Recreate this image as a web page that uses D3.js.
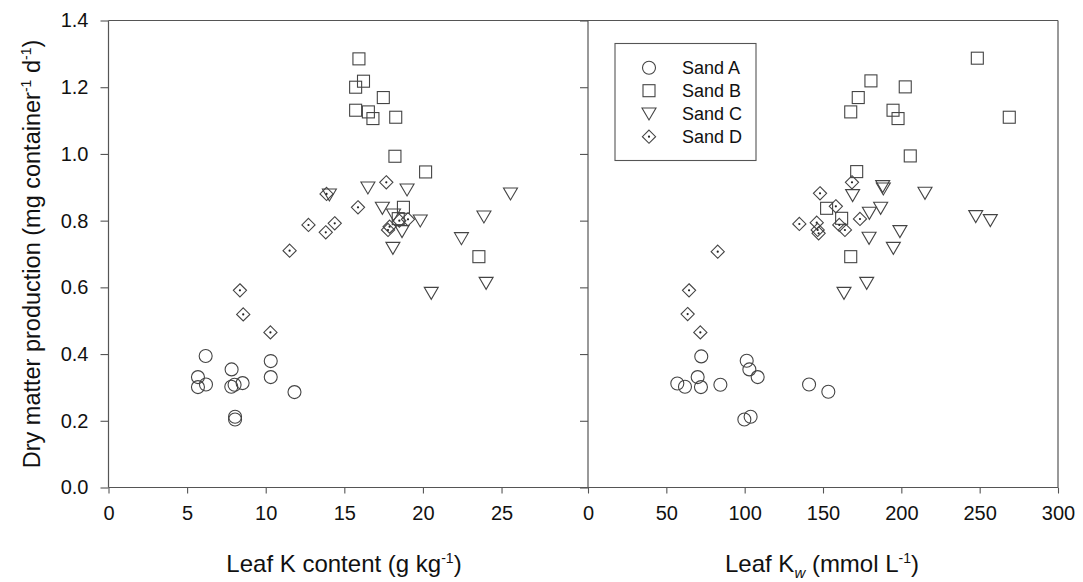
<!DOCTYPE html>
<html>
<head>
<meta charset="utf-8">
<script src="https://cdn.jsdelivr.net/npm/d3@7"></script>
<style>
  html, body { margin: 0; padding: 0; background: #fff; }
  svg { display: block; }
  text { font-family: "Liberation Sans", Arial, sans-serif; fill: #111; }
</style>
</head>
<body>
<svg id="chart" width="1083" height="582"></svg>
<script>
// ---------- DATA ----------
const series = ["Sand A", "Sand B", "Sand C", "Sand D"];
const yTicks = [0.0, 0.2, 0.4, 0.6, 0.8, 1.0, 1.2, 1.4];
const xTicksK = [0, 5, 10, 15, 20, 25];
const xTicksKw = [0, 50, 100, 150, 200, 250, 300];

// Left panel: Leaf K content (g kg-1) vs dry matter production
const kA  = [6.18, 5.69, 5.69, 6.2, 7.83, 7.81, 8.02, 8.53, 8.05, 8.05, 10.32, 10.32, 11.83];
const dmKA = [0.394, 0.331, 0.301, 0.309, 0.354, 0.302, 0.308, 0.313, 0.212, 0.204, 0.379, 0.331, 0.286];
const kB  = [15.93, 16.22, 15.72, 17.48, 15.72, 16.53, 16.82, 18.27, 18.22, 20.17, 18.76, 18.43, 23.56];
const dmKB = [1.285, 1.218, 1.200, 1.169, 1.131, 1.126, 1.106, 1.110, 0.993, 0.946, 0.840, 0.806, 0.692];
const kC  = [14.05, 16.5, 18.99, 25.57, 17.42, 18.13, 19.83, 23.88, 18.67, 22.45, 18.09, 20.53, 24.02];
const dmKC = [0.877, 0.898, 0.892, 0.880, 0.837, 0.817, 0.799, 0.811, 0.767, 0.746, 0.717, 0.582, 0.612];
const kD  = [13.87, 12.72, 14.39, 13.82, 11.52, 17.67, 15.87, 19.05, 18.5, 17.88, 17.78, 8.36, 8.57, 10.3];
const dmKD = [0.880, 0.787, 0.792, 0.765, 0.710, 0.915, 0.840, 0.804, 0.800, 0.782, 0.772, 0.591, 0.519, 0.465];

// Right panel: Leaf Kw (mmol L-1) vs dry matter production
const kwA = [72.3, 57.0, 61.9, 70.0, 72.1, 84.5, 101.3, 103.0, 108.3, 99.8, 103.8, 141.1, 153.4];
const dmWA = [0.393, 0.312, 0.302, 0.331, 0.301, 0.308, 0.380, 0.354, 0.331, 0.204, 0.212, 0.309, 0.287];
const kwB = [248.5, 180.6, 202.5, 172.5, 167.7, 194.7, 197.9, 268.9, 205.7, 171.5, 152.3, 161.9, 167.7];
const dmWB = [1.287, 1.219, 1.201, 1.169, 1.126, 1.131, 1.106, 1.110, 0.994, 0.947, 0.837, 0.807, 0.692];
const kwC = [188.1, 188.5, 215.1, 168.9, 186.8, 179.6, 247.5, 256.8, 199.1, 179.4, 194.9, 163.4, 177.9];
const dmWC = [0.902, 0.895, 0.882, 0.875, 0.837, 0.822, 0.812, 0.800, 0.767, 0.747, 0.717, 0.582, 0.612];
const kwD = [82.8, 64.5, 63.6, 71.7, 148.1, 134.9, 146.0, 146.6, 147.2, 158.2, 168.5, 173.6, 160.4, 164.0];
const dmWD = [0.707, 0.591, 0.520, 0.465, 0.882, 0.790, 0.794, 0.772, 0.762, 0.843, 0.915, 0.805, 0.787, 0.772];

// ---------- LAYOUT ----------
const svg = d3.select("#chart");
const yTop = 20.5, yBottom = 487.5;
const leftX0 = 108.5, midX = 588, rightX1 = 1058;
const stroke = "#444";

const y = d3.scaleLinear().domain([0, 1.4]).range([yBottom, yTop]);
const xK = d3.scaleLinear().domain([0, 30.5]).range([leftX0, midX]);
const xKw = d3.scaleLinear().domain([0, 300]).range([midX, rightX1]);

// symbol drawing
function drawSymbol(g, type) {
  const s = g.append("g");
  if (type === 0) {
    s.append("circle").attr("r", 6.5).attr("fill", "none").attr("stroke", stroke).attr("stroke-width", 1.1);
  } else if (type === 1) {
    s.append("rect").attr("x", -6).attr("y", -6).attr("width", 12).attr("height", 12)
      .attr("fill", "none").attr("stroke", stroke).attr("stroke-width", 1.1);
  } else if (type === 2) {
    s.append("path").attr("d", "M-7,-6L7,-6L0,6Z").attr("fill", "none").attr("stroke", stroke).attr("stroke-width", 1.1);
  } else {
    s.append("path").attr("d", "M0,-6.6L6.6,0L0,6.6L-6.6,0Z").attr("fill", "none").attr("stroke", stroke).attr("stroke-width", 1.1);
    s.append("circle").attr("r", 1.1).attr("fill", "#222");
  }
  return s;
}

// ---------- AXES ----------
const axisG = svg.append("g");
axisG.append("g").attr("transform", `translate(${leftX0},0)`)
  .call(d3.axisLeft(y).tickValues(yTicks).tickFormat(d3.format(".1f")).tickSize(8).tickPadding(12));
axisG.append("g").attr("transform", `translate(${midX},0)`)
  .call(d3.axisLeft(y).tickValues(yTicks).tickFormat("").tickSize(8));
axisG.append("g").attr("transform", `translate(0,${yBottom})`)
  .call(d3.axisBottom(xK).tickValues(xTicksK).tickSize(6).tickPadding(12));
axisG.append("g").attr("transform", `translate(0,${yBottom})`)
  .call(d3.axisBottom(xKw).tickValues(xTicksKw).tickSize(6).tickPadding(12));

axisG.selectAll(".domain").remove();
axisG.selectAll(".tick line").attr("stroke", "#555").attr("stroke-width", 1.1);
axisG.selectAll(".tick text").style("font-size", "20px").style("font-family", "Liberation Sans, Arial, sans-serif").attr("fill", "#111");
[[leftX0, yTop, leftX0, yBottom], [midX, yTop, midX, yBottom], [rightX1, yTop, rightX1, yBottom],
 [leftX0, yBottom, rightX1, yBottom], [leftX0, yTop, rightX1, yTop]]
  .forEach(([x1, y1, x2, y2]) => axisG.append("line").attr("x1", x1).attr("y1", y1).attr("x2", x2).attr("y2", y2)
    .attr("stroke", "#555").attr("stroke-width", 1.2));

// ---------- POINTS ----------
const leftSets = [[kA, dmKA], [kB, dmKB], [kC, dmKC], [kD, dmKD]];
const rightSets = [[kwA, dmWA], [kwB, dmWB], [kwC, dmWC], [kwD, dmWD]];
const pts = svg.append("g");
leftSets.forEach(([xs, ys], si) => {
  xs.forEach((v, i) => {
    drawSymbol(pts, si).attr("transform", `translate(${xK(v)},${y(ys[i])})`);
  });
});
rightSets.forEach(([xs, ys], si) => {
  xs.forEach((v, i) => {
    drawSymbol(pts, si).attr("transform", `translate(${xKw(v)},${y(ys[i])})`);
  });
});

// ---------- LEGEND ----------
const lg = svg.append("g");
lg.append("rect").attr("x", 615).attr("y", 43.5).attr("width", 141).attr("height", 117)
  .attr("fill", "#fff").attr("stroke", "#555").attr("stroke-width", 1.1);
const legendRows = [67.7, 90.7, 114, 136.7];
series.forEach((name, i) => {
  drawSymbol(lg, i).attr("transform", `translate(649,${legendRows[i]})`);
  lg.append("text").attr("x", 682).attr("y", legendRows[i]).attr("dy", "0.35em")
    .style("font-size", "18px").text(name);
});

// ---------- TITLES ----------
const yt = svg.append("text").attr("transform", `translate(40,${(yTop + yBottom) / 2}) rotate(-90)`)
  .attr("text-anchor", "middle").style("font-size", "23.5px");
yt.append("tspan").text("Dry matter production (mg container");
yt.append("tspan").attr("dy", -9).style("font-size", "14px").text("-1");
yt.append("tspan").attr("dy", 9).text(" d");
yt.append("tspan").attr("dy", -9).style("font-size", "14px").text("-1");
yt.append("tspan").attr("dy", 9).text(")");

const xt1 = svg.append("text").attr("x", 344).attr("y", 571.5)
  .attr("text-anchor", "middle").style("font-size", "24px");
xt1.append("tspan").text("Leaf K content (g kg");
xt1.append("tspan").attr("dy", -9).style("font-size", "14px").text("-1");
xt1.append("tspan").attr("dy", 9).text(")");

const xt2 = svg.append("text").attr("x", 822).attr("y", 571.5)
  .attr("text-anchor", "middle").style("font-size", "24px");
xt2.append("tspan").text("Leaf K");
xt2.append("tspan").attr("dy", 6).style("font-size", "15px").style("font-style", "italic").text("w");
xt2.append("tspan").attr("dy", -6).text(" (mmol L");
xt2.append("tspan").attr("dy", -9).style("font-size", "14px").text("-1");
xt2.append("tspan").attr("dy", 9).text(")");
</script>
</body>
</html>
